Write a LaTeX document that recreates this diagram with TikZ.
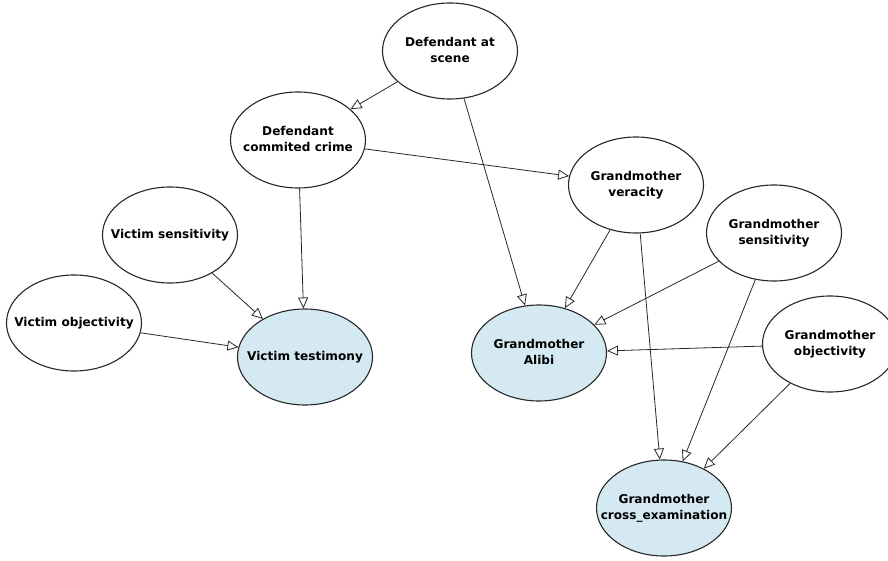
\documentclass[tikz,border=0pt]{standalone}
\usepackage{fontspec}
\setmainfont{DejaVu Sans}
\usetikzlibrary{shapes.geometric,arrows.meta}
\definecolor{obsblue}{RGB}{212,233,241}
\definecolor{edgegray}{RGB}{40,40,40}
% label set in a zero-width box so every ellipse keeps the same size
\newcommand\varlabel[1]{\makebox[0pt]{\begin{tabular}{@{}c@{}}#1\end{tabular}}}
\begin{document}
\begin{tikzpicture}[x=1pt,y=-1pt,
  var/.style={ellipse,draw=edgegray,line width=1.1pt,fill=white,
    minimum width=135pt,minimum height=96pt,inner sep=0pt,
    font=\fontsize{12.1}{16.5}\selectfont\bfseries},
  obs/.style={var,fill=obsblue},
  link/.style={draw=edgegray,line width=0.8pt,
    -{Triangle[open,length=11pt,width=10pt]}}]
\useasboundingbox (0,0) rectangle (888,561);
\fill[white] (0,0) rectangle (888,561);

% variables
\node[var] (scene) at (450,51)  {\varlabel{Defendant at\\scene}};
\node[var] (crime) at (298,140) {\varlabel{Defendant\\commited crime}};
\node[var] (ver)   at (636,185) {\varlabel{Grandmother\\veracity}};
\node[var] (gsens) at (774,233) {\varlabel{Grandmother\\sensitivity}};
\node[var] (vsens) at (170,235) {\varlabel{Victim sensitivity}};
\node[var] (vobj)  at (74,323)  {\varlabel{Victim objectivity}};
\node[obs] (vtest) at (305,357) {\varlabel{Victim testimony}};
\node[obs] (alibi) at (539,353) {\varlabel{Grandmother\\Alibi}};
\node[var] (gobj)  at (830,344) {\varlabel{Grandmother\\objectivity}};
\node[obs] (cross) at (664,508) {\varlabel{Grandmother\\cross\_examination}};

% dependencies
\draw[link] (scene) -- (crime);
\draw[link] (scene) -- (alibi);
\draw[link] (crime) -- (ver);
\draw[link] (crime) -- (vtest);
\draw[link] (vsens) -- (vtest);
\draw[link] (vobj)  -- (vtest);
\draw[link] (ver)   -- (alibi);
\draw[link] (ver)   -- (cross);
\draw[link] (gsens) -- (alibi);
\draw[link] (gsens) -- (cross);
\draw[link] (gobj)  -- (alibi);
\draw[link] (gobj)  -- (cross);
\end{tikzpicture}
\end{document}
